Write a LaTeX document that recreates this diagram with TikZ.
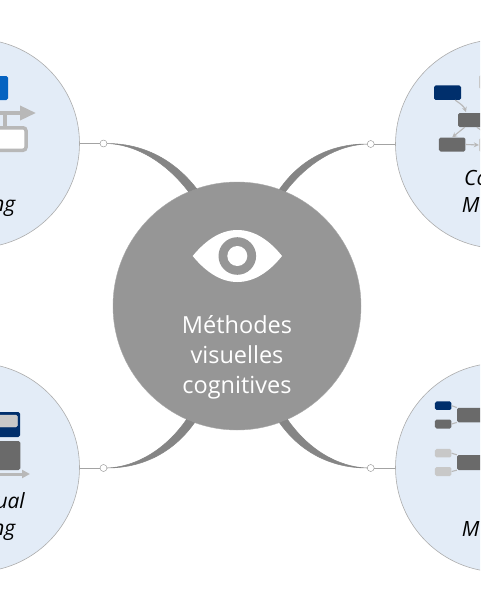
\documentclass[tikz,border=0pt]{standalone}
\usepackage{fontspec}
\setmainfont{Open Sans}
\usetikzlibrary{arrows.meta,shapes.geometric}
\definecolor{hubgrey}{HTML}{969696}
\definecolor{linkgrey}{HTML}{858585}
\definecolor{topicblue}{HTML}{E3ECF7}
\definecolor{iconnavy}{HTML}{002F6C}
\definecolor{iconblue}{HTML}{0563C1}
\definecolor{icondark}{HTML}{6A6A6A}
\definecolor{iconlight}{HTML}{C8C8C8}
\definecolor{iconline}{HTML}{B8B8B8}
\tikzset{
    hub/.style={circle,fill=hubgrey,draw=hubgrey!80!white,inner sep=0pt,minimum size=248pt},
    topic/.style={circle,fill=topicblue,draw=black!32,semithick,inner sep=0pt,minimum size=209pt},
    joint/.style={circle,fill=white,draw=black!45,thin,inner sep=0pt,minimum size=7pt},
    stem/.style={draw=black!36,line width=1pt},
    taper/.style={fill=linkgrey,draw=linkgrey,line width=.5pt},
    box/.style={rectangle,rounded corners=1.6pt,inner sep=0pt},
    fragment/.style={inner sep=0pt,font=\fontsize{21}{21}\selectfont\itshape},
    thinarrow/.style={draw=iconline,line width=1.1pt,-{Stealth[length=5pt,width=5pt]}},
    twig/.style={draw=iconline,line width=1.1pt},
    bigarrow/.style 2 args={draw=iconline,-{Triangle[length=#1,width=#2]}},
}

\begin{document}
\begin{tikzpicture}[x=1pt,y=-1pt]
    \clip (0,0) rectangle (480,602);

    \node[hub] (centre) at (237,306) {};
    \node[topic] (process) at (-25,143.5) {};
    \node[topic] (concept) at (500,144) {};
    \node[topic] (visual) at (-25,467.5) {};
    \node[topic] (mind) at (500,467.5) {};

    \node[joint] (jointnw) at (103.5,143.5) {};
    \node[joint] (jointne) at (370.7,144) {};
    \node[joint] (jointsw) at (103.5,468) {};
    \node[joint] (jointse) at (370.7,468) {};

    \draw[stem] (process.east |- jointnw) -- (jointnw);
    \draw[stem] (concept.west |- jointne) -- (jointne);
    \draw[stem] (visual.east |- jointsw) -- (jointsw);
    \draw[stem] (mind.west |- jointse) -- (jointse);

    \filldraw[taper] (jointnw.east) .. controls (135,144.5) and (165,161) .. (centre.113)
        -- (centre.109) .. controls (172,157) and (140,143.5) .. (jointnw.east);
    \filldraw[taper] (jointne.west) .. controls (339,145) and (309,161) .. (centre.67)
        -- (centre.70) .. controls (302,157) and (334,143.8) .. (jointne.west);
    \filldraw[taper] (jointsw.east) .. controls (135,467) and (165,450.5) .. (centre.246)
        -- (centre.250) .. controls (172,454.5) and (140,468) .. (jointsw.east);
    \filldraw[taper] (jointse.west) .. controls (339,467) and (309,450.5) .. (centre.294)
        -- (centre.290) .. controls (302,454.5) and (334,468) .. (jointse.west);

    \fill[white] (192.7,256) .. controls (205,241) and (220,230) .. (237.3,230)
        .. controls (255,230) and (270,241) .. (282,256)
        .. controls (270,271) and (255,282) .. (237.3,282)
        .. controls (220,282) and (205,271) .. (192.7,256) -- cycle;
    \node[circle,fill=hubgrey,inner sep=0pt,minimum size=37.6pt] (iris) at (237.3,256) {};
    \node[circle,fill=white,inner sep=0pt,minimum size=20pt] (pupil) at (iris) {};

    \node[text=white,align=center,font=\fontsize{23.5}{30}\selectfont,anchor=base] (title) at (237,393)
        {Méthodes\\visuelles\\cognitives};

    \node[box,fill=iconblue,minimum width=48pt,minimum height=24pt] (bluebox) at (-16,88) {};
    \node[box,fill=white,draw=iconline,line width=3.5pt,rounded corners=3pt,minimum width=92pt,minimum height=22.5pt] (whitebox) at (-20,139) {};
    \coordinate (flowstart) at (-20,113);
    \coordinate (flowend) at (36,113);
    \coordinate (branch) at (5,113);
    \draw[draw=iconline,line width=3.5pt] (branch) -- (branch |- whitebox.north);
    \draw[bigarrow={16pt}{14pt},line width=3.5pt] (flowstart) -- (flowend);

    \node[box,fill=iconnavy,minimum width=27pt,minimum height=14.5pt] (navybox) at (447.5,92.7) {};
    \node[box,fill=icondark,minimum width=50pt,minimum height=14pt] (midbox) at (483,120) {};
    \node[box,fill=icondark,minimum width=26.5pt,minimum height=14pt] (lowbox) at (452.2,144.5) {};
    \node[box,fill=iconlight,minimum width=26pt,minimum height=14pt] (uplight) at (492,82) {};
    \node[box,fill=iconlight,minimum width=26pt,minimum height=14pt] (lowlight) at (492,145) {};
    \draw[thinarrow] (navybox.south east) ++(-6,0) coordinate (navyout) to[out=-35,in=110] (466,112);
    \draw[thinarrow] (midbox.south west) ++(7,0) coordinate (midout) -- (lowbox.north);
    \draw[thinarrow] (lowbox.east) -- (lowlight.west);
    \draw[thinarrow] (midbox.south west) ++(19,0) coordinate (midright) -- (lowlight.north);

    \node[box,fill=iconnavy,minimum width=80pt,minimum height=25pt] (framebox) at (-20,424.5) {};
    \node[box,fill=iconlight,draw=white!85!black,thin,minimum width=75pt,minimum height=12pt] (framefill) at (-20,421) {};
    \node[box,fill=icondark,minimum width=80.5pt,minimum height=29pt] (darkbox) at (-20,455.5) {};
    \coordinate (timestart) at (-30,474);
    \coordinate (timeend) at (30,474);
    \draw[bigarrow={8pt}{8pt},line width=3pt] (timestart) -- (timeend);

    \node[box,fill=iconnavy,minimum width=16.5pt,minimum height=8.5pt] (leafa) at (443.2,405.7) {};
    \node[box,fill=icondark,minimum width=16.5pt,minimum height=9pt] (leafb) at (443.2,424) {};
    \node[box,fill=iconlight,minimum width=16.5pt,minimum height=8.5pt] (leafc) at (443.2,453.2) {};
    \node[box,fill=iconlight,minimum width=16.5pt,minimum height=9pt] (leafd) at (443.2,471.5) {};
    \node[box,fill=icondark,minimum width=50pt,minimum height=14.5pt] (parentup) at (482,415) {};
    \node[box,fill=icondark,minimum width=50pt,minimum height=15pt] (parentdown) at (482,462.5) {};
    \draw[twig] (leafa.east) -- (parentup.north west);
    \draw[twig] (leafb.east) -- (parentup.south west);
    \draw[twig] (leafc.east) -- (parentdown.north west);
    \draw[twig] (leafd.east) -- (parentdown.south west);

    \node[fragment,anchor=base east] (processtext) at (15.5,211) {ng};
    \node[fragment,anchor=base west] (concepta) at (464,185) {Co};
    \node[fragment,anchor=base west] (conceptb) at (461.6,212) {M};
    \node[fragment,anchor=base east] (visuala) at (25,508) {ual};
    \node[fragment,anchor=base east] (visualb) at (15.5,535) {ng};
    \node[fragment,anchor=base west] (mindtext) at (461.6,536.7) {M};
\end{tikzpicture}
\end{document}
